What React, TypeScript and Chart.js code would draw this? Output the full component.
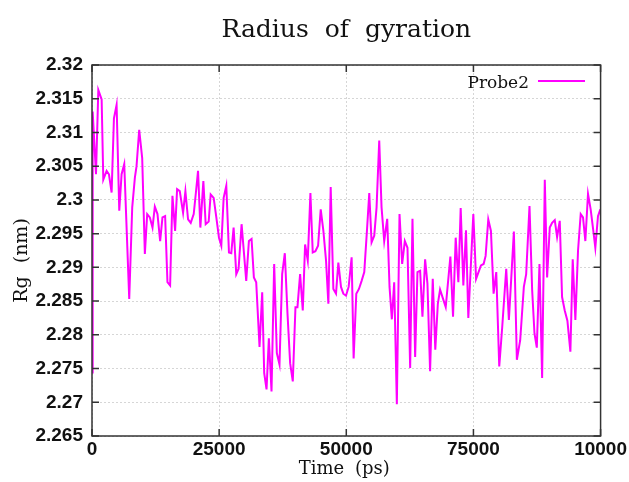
import React, { useEffect, useRef } from "react";
import { Chart, registerables } from "chart.js";

Chart.register(...registerables);

const TITLE = "Radius of gyration";
const X_TITLE = "Time (ps)";
const Y_TITLE = "Rg (nm)";
const SERIES_LABEL = "Probe2";
const LINE_COLOR = "#ff00ff";

const X_TICKS = [0, 25000, 50000, 75000, 100000];
const X_TICK_LABELS = ["0", "25000", "50000", "75000", "10000"];
const Y_TICKS = [2.265, 2.27, 2.275, 2.28, 2.285, 2.29, 2.295, 2.3, 2.305, 2.31, 2.315, 2.32];
const Y_TICK_LABELS = ["2.265", "2.27", "2.275", "2.28", "2.285", "2.29", "2.295", "2.3", "2.305", "2.31", "2.315", "2.32"];

const TIME_PS = [
  0, 131, 784, 1242, 1896, 2222, 2876, 3333, 3856, 4314, 4837, 5360, 5818, 6340, 7320, 7909, 8431, 8758, 9281, 9869,
  10392, 10850, 11373, 11896, 12353, 12876, 13399, 13856, 14379, 14837, 15360, 15817, 16340, 16732, 17255, 17909, 18366, 18889, 19412, 20000,
  20392, 20850, 21307, 21896, 22353, 22942, 23334, 23922, 24445, 24968, 25425, 25883, 26406, 26929, 27386, 27844, 28367, 28824, 29412, 29870,
  30327, 30850, 31373, 31830, 32288, 32942, 33465, 33860, 34318, 34775, 35298, 35821, 36344, 36867, 37390, 37913, 38436, 38959, 39481, 40004,
  40396, 40919, 41442, 41900, 42423, 42946, 43403, 43926, 44449, 44972, 45495, 46018, 46475, 46933, 47456, 47979, 48436, 48959, 49417, 49940,
  50463, 51051, 51443, 51966, 52489, 53012, 53535, 54058, 54516, 54973, 55496, 55954, 56477, 56934, 57457, 58045, 58503, 58960, 59418, 59941,
  60464, 60987, 61510, 62033, 62556, 63014, 63537, 63994, 64517, 64975, 65498, 65955, 66478, 67001, 67500, 68000, 68439, 69550, 70466, 70989,
  71512, 72035, 72493, 73016, 73539, 73996, 74977, 75520, 76480, 77003, 77396, 77918, 78441, 78964, 79487, 80076, 80664, 81448, 81971, 82951,
  83540, 84194, 84911, 85369, 86023, 86546, 87003, 87461, 87984, 88507, 89030, 89487, 90010, 90468, 90991, 91449, 91972, 92429, 92952, 93475,
  94063, 94521, 95044, 95567, 96090, 96547, 97005, 97528, 98051, 98574, 98966, 99489, 99947,
];

const RG_NM = [
  2.2744, 2.3131, 2.3038, 2.3163, 2.3149, 2.303, 2.3043, 2.3038, 2.3011, 2.3121, 2.3141, 2.2984, 2.3038, 2.3053, 2.2853, 2.2989, 2.3033, 2.305, 2.3104, 2.3062,
  2.292, 2.2979, 2.2974, 2.2959, 2.299, 2.2979, 2.2939, 2.2974, 2.2976, 2.2878, 2.2873, 2.3006, 2.2954, 2.3016, 2.3013, 2.2981, 2.3013, 2.2971, 2.2966, 2.2979,
  2.3008, 2.3043, 2.2959, 2.3028, 2.2964, 2.2968, 2.3008, 2.3003, 2.2974, 2.2944, 2.2932, 2.3003, 2.3021, 2.2922, 2.2921, 2.2959, 2.289, 2.2898, 2.2964, 2.2922,
  2.288, 2.2939, 2.2942, 2.2885, 2.2878, 2.2782, 2.2863, 2.2743, 2.2719, 2.2795, 2.2716, 2.2905, 2.2773, 2.2756, 2.289, 2.2921, 2.2832, 2.2758, 2.2731, 2.2841,
  2.2841, 2.289, 2.2836, 2.2934, 2.291, 2.301, 2.2922, 2.2924, 2.2932, 2.2986, 2.2954, 2.291, 2.2846, 2.3019, 2.2868, 2.2861, 2.2907, 2.2871, 2.2861, 2.2858,
  2.2871, 2.2915, 2.2765, 2.2861, 2.2868, 2.288, 2.2893, 2.2954, 2.301, 2.2937, 2.2947, 2.2989, 2.3088, 2.2989, 2.2939, 2.2972, 2.2871, 2.2823, 2.2878, 2.2697,
  2.2979, 2.2905, 2.2939, 2.2929, 2.2751, 2.2972, 2.2767, 2.2893, 2.2895, 2.2827, 2.2912, 2.2876, 2.2746, 2.2883, 2.2778, 2.2846, 2.2867, 2.2841, 2.2916, 2.2827,
  2.2944, 2.2878, 2.2988, 2.2873, 2.2955, 2.2825, 2.2979, 2.2883, 2.2903, 2.2905, 2.2917, 2.2971, 2.2954, 2.2861, 2.2893, 2.2753, 2.2812, 2.2898, 2.2822, 2.2953,
  2.2763, 2.2792, 2.2871, 2.289, 2.2991, 2.2866, 2.2802, 2.2781, 2.2905, 2.2736, 2.303, 2.2885, 2.2959, 2.2966, 2.297, 2.2945, 2.2969, 2.2856, 2.2836, 2.2821,
  2.2775, 2.2912, 2.2822, 2.2925, 2.2979, 2.2974, 2.2939, 2.3009, 2.2986, 2.2954, 2.2929, 2.2976, 2.2986,
];

const SERIF = "'DejaVu Serif', serif";
const SANS = "'Liberation Sans', Arial, sans-serif";

const framePlugin = {
  id: "framePlugin",
  afterDatasetsDraw(chart: any) {
    const { ctx, chartArea } = chart;
    const { left, right, top, bottom } = chartArea;
    const xs = chart.scales.x;
    const ys = chart.scales.y;
    ctx.save();
    ctx.strokeStyle = "#333333";
    ctx.lineWidth = 1.5;
    ctx.setLineDash([]);
    const tl = 7;
    ctx.beginPath();
    X_TICKS.forEach((v) => {
      const px = xs.getPixelForValue(v);
      ctx.moveTo(px, bottom);
      ctx.lineTo(px, bottom - tl);
      ctx.moveTo(px, top);
      ctx.lineTo(px, top + tl);
    });
    Y_TICKS.forEach((v) => {
      const py = ys.getPixelForValue(v);
      ctx.moveTo(left, py);
      ctx.lineTo(left + tl, py);
      ctx.moveTo(right, py);
      ctx.lineTo(right - tl, py);
    });
    ctx.stroke();
    ctx.strokeRect(left, top, right - left, bottom - top);
    ctx.restore();
  },
  afterDraw(chart: any) {
    const { ctx, chartArea } = chart;
    const { left, right, top, bottom } = chartArea;
    ctx.save();
    ctx.fillStyle = "#111111";
    ctx.textBaseline = "alphabetic";
    ctx.textAlign = "center";
    // Title
    ctx.font = `25px ${SERIF}`;
    (ctx as any).wordSpacing = "8px";
    ctx.fillText(TITLE, (left + right) / 2, 37);
    // X title
    ctx.font = `18px ${SERIF}`;
    (ctx as any).wordSpacing = "5px";
    ctx.fillText(X_TITLE, (left + right) / 2 - 2, 474);
    // Y title
    ctx.save();
    ctx.translate(27, (top + bottom) / 2 + 10);
    ctx.rotate(-Math.PI / 2);
    ctx.font = `19px ${SERIF}`;
    (ctx as any).wordSpacing = "7px";
    ctx.fillText(Y_TITLE, 0, 0);
    ctx.restore();
    // Legend
    (ctx as any).wordSpacing = "0px";
    ctx.font = `17px ${SERIF}`;
    ctx.textAlign = "right";
    ctx.fillText(SERIES_LABEL, 529, 88);
    ctx.strokeStyle = LINE_COLOR;
    ctx.lineWidth = 2;
    ctx.beginPath();
    ctx.moveTo(538, 81);
    ctx.lineTo(585, 81);
    ctx.stroke();
    ctx.restore();
  },
};

export default function App() {
  const ref = useRef<HTMLCanvasElement | null>(null);
  useEffect(() => {
    document.body.style.margin = "0";
    const canvas = ref.current;
    if (!canvas) return;
    const data = TIME_PS.map((t, i) => ({ x: t, y: RG_NM[i] }));
    const chart = new Chart(canvas, {
      type: "line",
      data: {
        datasets: [
          {
            label: SERIES_LABEL,
            data,
            borderColor: LINE_COLOR,
            backgroundColor: LINE_COLOR,
            borderWidth: 2,
            pointRadius: 0,
            tension: 0,
            fill: false,
          },
        ],
      },
      options: {
        animation: false,
        responsive: false,
        maintainAspectRatio: false,
        layout: { padding: { top: 65, right: 27, left: 0, bottom: 0 } },
        plugins: {
          legend: { display: false },
          title: { display: false },
          tooltip: { enabled: false },
        },
        scales: {
          x: {
            type: "linear",
            min: 0,
            max: 100000,
            afterBuildTicks: (scale: any) => {
              scale.ticks = X_TICKS.map((v) => ({ value: v }));
            },
            afterFit: (scale: any) => {
              scale.height = 46;
            },
            ticks: {
              autoSkip: false,
              maxRotation: 0,
              padding: 2,
              color: "#111111",
              font: { family: SANS, size: 19, weight: "bold" },
              callback: (_v: any, i: number) => X_TICK_LABELS[i],
            },
            border: { display: false, dash: [2, 2] },
            grid: {
              drawTicks: false,
              color: "#d6d6d6",
              lineWidth: 1,
            },
          },
          y: {
            type: "linear",
            min: 2.265,
            max: 2.32,
            afterBuildTicks: (scale: any) => {
              scale.ticks = Y_TICKS.map((v) => ({ value: v }));
            },
            afterFit: (scale: any) => {
              scale.width = 92;
            },
            ticks: {
              autoSkip: false,
              padding: 9,
              color: "#111111",
              font: { family: SANS, size: 19, weight: "bold" },
              callback: (_v: any, i: number) => Y_TICK_LABELS[i],
            },
            border: { display: false, dash: [2, 2] },
            grid: {
              drawTicks: false,
              color: "#d6d6d6",
              lineWidth: 1,
            },
          },
        },
      },
      plugins: [framePlugin],
    } as any);
    return () => chart.destroy();
  }, []);
  return (
    <div style={{ width: 629, height: 482, background: "#ffffff" }}>
      <canvas ref={ref} width={629} height={482} style={{ display: "block" }} />
    </div>
  );
}
